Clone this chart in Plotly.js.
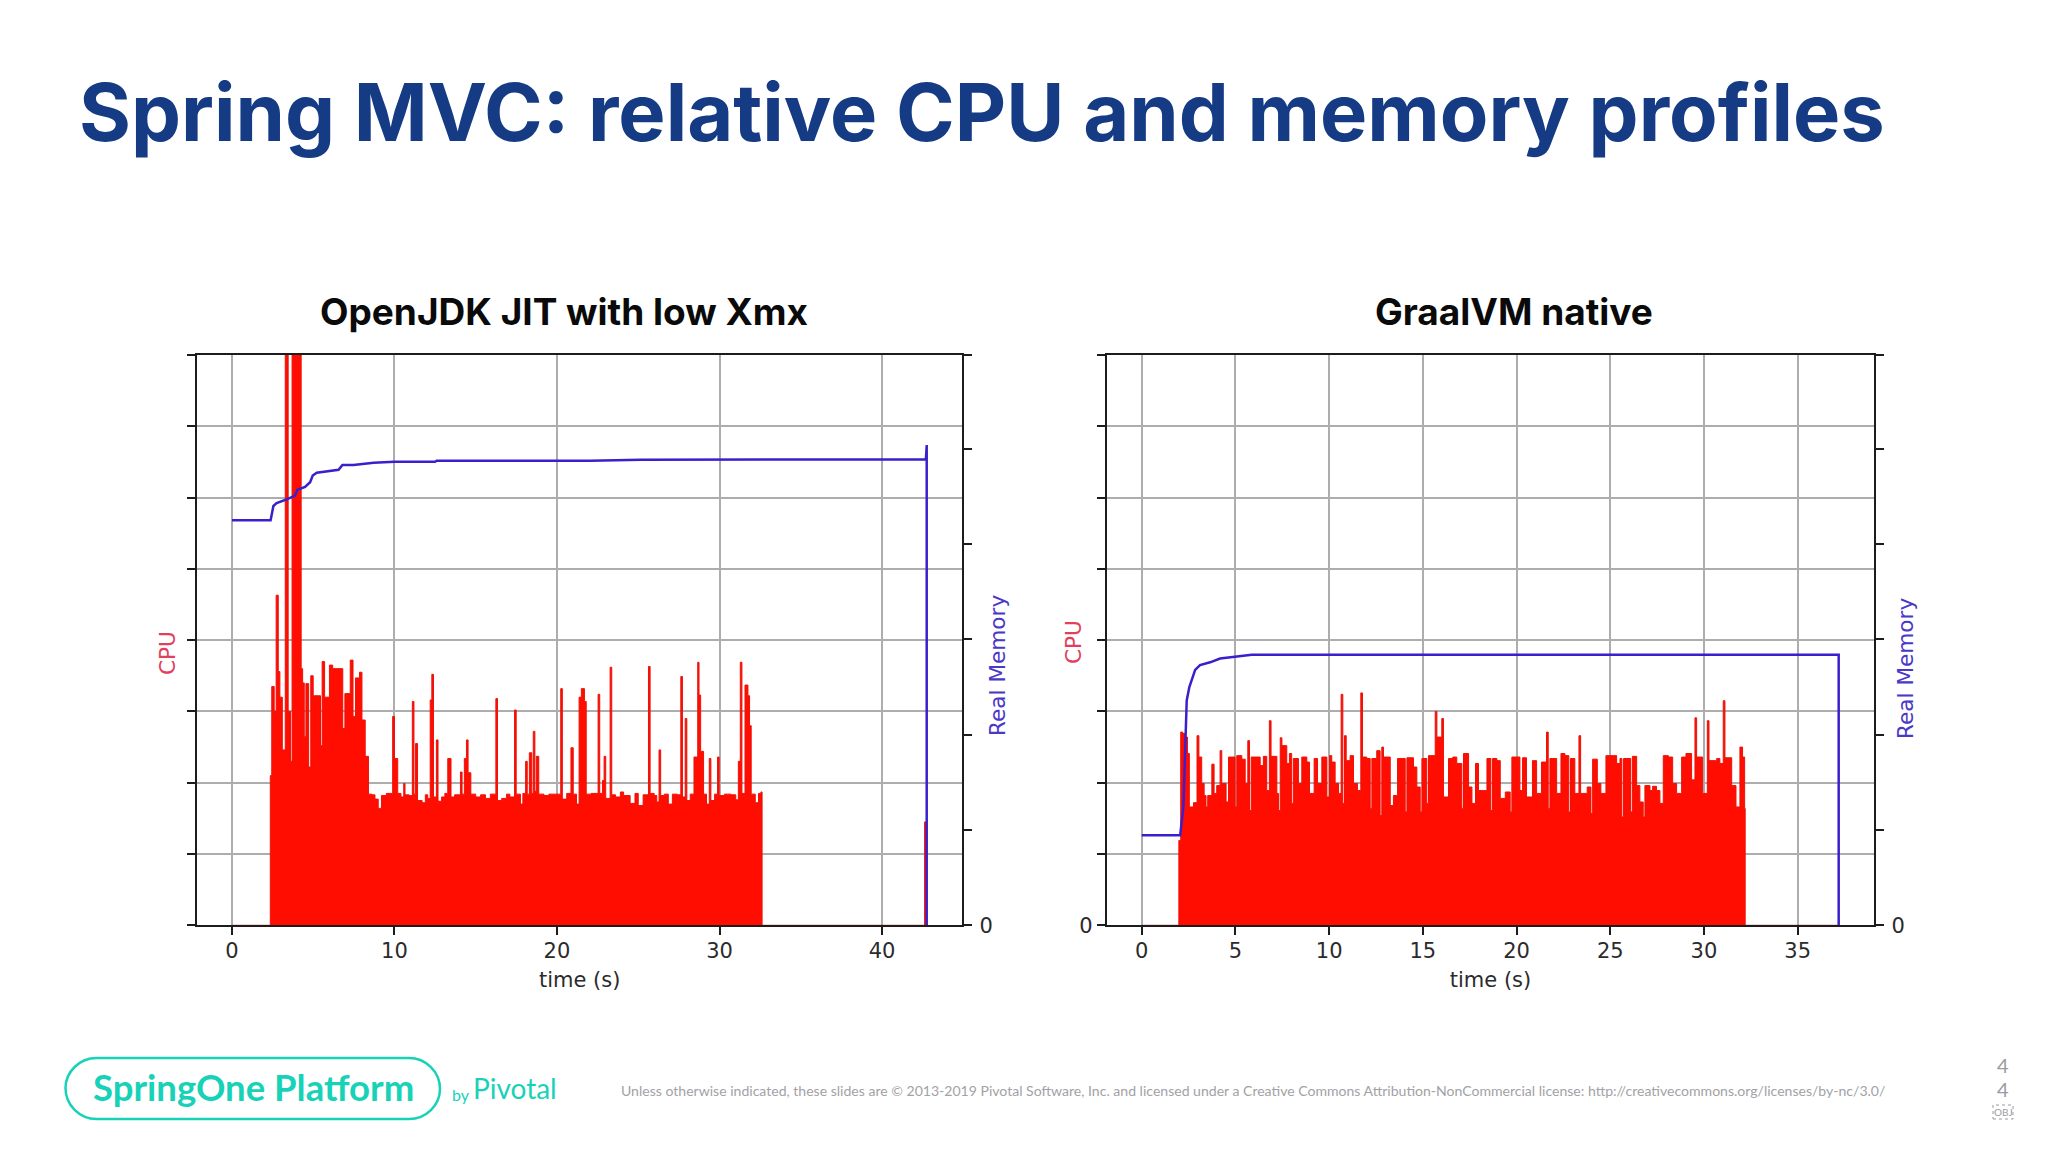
<!DOCTYPE html>
<html><head><meta charset="utf-8">
<script src="https://cdn.plot.ly/plotly-3.0.1.min.js"></script>
<style>html,body{margin:0;padding:0;background:#fff}#c{width:2048px;height:1152px}</style>
</head><body><div id="c"></div>
<script>
const slideTitle = "Spring MVC: relative CPU and memory profiles";
const panelTitles = ["OpenJDK JIT with low Xmx", "GraalVM native"];
const jitXTicks = [0, 10, 20, 30, 40];
const graalXTicks = [0, 5, 10, 15, 20, 25, 30, 35];
const cpuTicks = [0, 1, 2, 3, 4, 5, 6, 7, 8];
const memTicks = [0, 1, 2, 3, 4, 5, 5.985];

const jitCpuTime = [0,2.28,2.36,2.45,2.6,2.72,2.85,2.95,3.1,3.28,3.46,3.6,3.7,4.26,4.35,4.45,4.55,4.72,4.85,5.0,5.45,5.55,5.7,6.0,6.2,6.4,6.82,6.95,7.28,7.45,7.6,7.85,8.0,8.2,8.4,
8.6,8.8,9.0,9.2,9.5,9.89,10.0,10.2,10.4,10.57,10.65,10.9,11.1,11.2,11.3,11.42,11.7,11.9,12.05,12.2,12.3,12.4,12.58,12.68,12.9,13.1,13.28,13.48,13.7,14.06,14.16,14.3,14.43,14.53,14.7,15,15.3,15.6,15.9,16.24,16.34,16.6,16.9,17.1,17.39,17.49,17.75,17.9,18.07,18.17,18.3,18.45,18.54,18.64,18.73,18.88,19.2,19.5,19.9,20.23,20.33,20.6,20.86,21.0,21.2,21.36,21.5,21.69,21.8,22.1,22.53,22.63,22.8,22.9,23.0,23.27,23.37,23.6,23.9,24.1,24.5,24.8,25.0,25.3,25.63,25.73,25.98,26.14,26.28,26.38,26.6,26.85,27.1,27.4,27.62,27.72,27.89,27.99,28.2,28.43,28.66,28.74,28.84,29.02,29.2,29.37,29.47,29.7,29.88,29.98,30.3,30.7,31.0,31.16,31.28,31.38,31.57,31.75,31.85,31.95,32.2,32.4,32.55,32.62,42.6,42.62,42.72];
const jitCpuValue = [0,0,2.1,3.35,3.0,4.63,3.56,3.2,2.46,8,3.0,2.3,8,3.6,3.4,2.65,3.39,2.22,3.5,3.22,2.52,3.7,3.2,3.65,3.6,3.6,2.76,3.25,3.72,2.93,3.47,3.55,2.88,2.37,1.84,
1.83,1.77,1.64,1.82,1.85,2.93,2.34,1.85,1.8,1.99,1.83,1.82,3.14,1.84,2.55,1.75,1.72,1.83,1.78,3.16,3.52,1.8,2.6,1.74,1.8,1.85,2.34,1.8,1.83,2.15,1.84,2.34,2.6,2.14,1.84,1.8,1.83,1.78,1.84,3.18,1.75,1.78,1.84,1.8,3.02,1.84,1.7,1.85,2.3,1.84,2.42,1.85,2.72,1.88,2.37,1.84,1.82,1.84,1.84,3.32,1.77,1.85,2.49,1.84,1.7,3.2,3.32,3.14,1.84,1.85,3.24,1.85,2.03,2.37,1.78,3.62,1.83,1.8,1.87,1.82,1.71,1.85,1.68,1.83,3.63,1.85,1.82,1.73,2.46,1.82,1.84,1.7,1.84,1.83,3.49,1.8,2.9,1.75,1.84,2.36,3.69,3.23,2.44,1.84,1.7,2.34,1.75,1.84,2.36,1.82,1.84,1.83,1.76,2.3,3.69,1.85,3.37,3.22,2.8,1.84,1.72,1.85,1.87,0,0,1.45,0];

const jitMemTime = [0,2.38,2.55,2.75,3.37,3.88,4.03,4.5,4.81,4.97,5.22,6.56,6.8,7.48,8.72,10,12.5,12.6,22,25.2,42.7,42.72,42.75,42.75];
const jitMemValue = [4.25,4.25,4.4,4.43,4.47,4.51,4.57,4.6,4.65,4.72,4.75,4.78,4.83,4.83,4.855,4.865,4.865,4.875,4.875,4.885,4.89,5.04,5.04,0];

const graalCpuTime = [0,1.98,2.08,2.19,2.31,2.44,2.54,2.76,2.95,3.05,3.2,3.33,3.43,3.52,3.74,3.86,4.0,4.18,4.27,4.5,4.63,4.8,4.98,5.07,5.34,5.52,5.66,5.75,5.84,6.14,6.32,6.49,6.67,6.81,6.9,7.21,7.3,7.39,7.48,7.74,7.88,8.0,8.09,8.36,8.54,8.81,8.95,9.2,9.38,9.61,9.88,10.02,10.14,10.32,10.5,10.64,10.73,10.82,10.91,11.12,11.3,11.51,11.69,11.78,12.01,12.19,12.28,12.54,12.72,12.81,12.9,13.26,13.43,13.65,13.88,14.06,14.15,14.5,14.68,14.86,14.95,15.21,15.3,15.66,15.75,16.01,16.1,16.37,16.6,16.81,17.08,17.17,17.44,17.62,17.81,17.97,18.24,18.42,18.63,18.72,18.95,19.13,19.4,19.66,19.75,20.18,20.32,20.53,20.85,21.07,21.33,21.6,21.69,21.78,22.14,22.37,22.58,22.79,22.88,23.11,23.33,23.42,23.77,23.97,24.06,24.31,24.5,24.77,25.16,25.34,25.52,25.62,25.71,26.09,26.18,26.41,26.58,26.76,26.85,27.12,27.26,27.47,27.65,27.83,28.1,28.33,28.54,28.81,29.04,29.34,29.52,29.61,29.93,30.18,30.27,30.68,30.85,31.03,31.12,31.48,31.71,31.92,32.06,32.17,32.2,37.2];
const graalCpuValue = [0,1.19,2.71,2.69,2.64,2.41,1.66,1.72,2.66,2.36,1.99,1.82,1.66,1.82,2.26,1.85,1.96,2.45,1.99,1.73,2.36,2.36,1.66,2.38,2.33,1.99,2.59,1.61,2.36,2.36,2.24,2.37,1.89,2.87,2.37,1.85,1.61,2.63,2.52,2.27,2.41,1.71,2.34,1.99,2.36,2.29,1.85,2.34,1.99,2.36,1.8,2.38,2.29,1.99,1.85,3.24,1.71,2.66,2.31,2.38,1.99,1.89,3.26,2.36,2.34,1.64,2.34,2.45,1.54,2.5,2.36,1.68,1.82,2.34,2.34,1.59,2.35,2.22,1.94,1.59,2.34,1.71,2.38,3.0,2.64,2.9,1.8,2.34,2.36,2.27,1.64,2.41,1.94,1.71,2.27,1.89,1.89,2.34,1.61,2.34,2.31,1.78,1.87,1.59,2.36,1.89,2.35,1.8,2.31,1.85,2.29,2.71,1.64,2.34,1.85,2.41,2.38,1.59,2.34,1.85,2.66,1.85,1.94,1.57,2.33,1.99,1.85,2.38,2.38,2.27,2.34,1.52,2.34,1.59,2.37,1.96,1.73,1.52,1.96,1.89,1.95,1.89,1.71,2.38,2.36,1.99,1.85,2.36,2.41,2.04,2.91,2.36,1.85,2.87,2.31,2.34,2.27,3.15,2.35,1.96,1.66,2.5,2.36,1.64,0,0];

const graalMemTime = [0,2.05,2.22,2.4,2.54,2.85,3.11,3.65,4.18,4.89,5.87,37.19,37.19];
const graalMemValue = [0.944,0.944,1.24,2.36,2.5,2.68,2.73,2.76,2.8,2.82,2.84,2.84,0];

const W = 2048, H = 1152;
const px = x => x / W, py = y => 1 - y / H;
const RED = "#fe0d00", BLUE = "#3a20cc", AXIS = "#1c1c1c", GRID = "#adadad", TXT = "#2b2b2b", TEAL = "#18d2b8";
const NAVY = "#153b85";
const mono = "DejaVu Sans", sans = "Inter";

function cpu(x, y, xa, ya) {
  return {x, y, xaxis: xa, yaxis: ya, type: "scatter", mode: "lines", fill: "tozeroy", fillcolor: RED,
          line: {color: "#ee1208", width: 1, shape: "hv"}, hoverinfo: "skip", showlegend: false};
}
function mem(x, y, xa, ya) {
  return {x, y, xaxis: xa, yaxis: ya, type: "scatter", mode: "lines",
          line: {color: BLUE, width: 2.5}, hoverinfo: "skip", showlegend: false};
}
const data = [
  cpu(jitCpuTime, jitCpuValue, "x", "y"),
  mem(jitMemTime, jitMemValue, "x", "y2"),
  cpu(graalCpuTime, graalCpuValue, "x2", "y3"),
  mem(graalMemTime, graalMemValue, "x2", "y4"),
];

function xAxis(left, right, range, ticks, anchor) {
  return {domain: [px(left), px(right)], range, anchor, tickmode: "array", tickvals: ticks, ticktext: ticks.map(String),
    ticks: "outside", ticklen: 8, tickwidth: 2, tickcolor: AXIS, showgrid: true, gridcolor: GRID, gridwidth: 2, zeroline: false,
    showline: true, linecolor: AXIS, linewidth: 2, mirror: true, ticklabelstandoff: -3,
    tickfont: {family: mono, size: 21, color: TXT},
    title: {text: "time (s)", font: {family: mono, size: 21, color: TXT}, standoff: 11}};
}
function cpuAxis(anchor, labels) {
  return {domain: [py(925.3), py(355)], range: [0, 8], anchor, side: "left", tickmode: "array", tickvals: cpuTicks, ticktext: labels,
    ticks: "outside", ticklen: 8, tickwidth: 2, tickcolor: AXIS, showgrid: true, gridcolor: GRID, gridwidth: 2, zeroline: false,
    showline: true, linecolor: AXIS, linewidth: 2,
    tickfont: {family: mono, size: 21, color: TXT}};
}
function memAxis(anchor, over) {
  return {domain: [py(925.3), py(355)], range: [0, 5.985], anchor, overlaying: over, side: "right", tickmode: "array", tickvals: memTicks,
    ticktext: ["0", "", "", "", "", "", ""], ticks: "outside", ticklen: 8, tickwidth: 2, tickcolor: AXIS, showgrid: false, zeroline: false,
    showline: true, linecolor: AXIS, linewidth: 2, ticklabelstandoff: 3, tickfont: {family: mono, size: 21, color: TXT}};
}
function note(text, x, y, size, color, family, extra) {
  const weight = (extra && extra.weight) || 400;
  const a = {text, x: px(x), y: py(y), xref: "paper", yref: "paper", showarrow: false,
    xanchor: "center", yanchor: "middle", font: {size, color, family, weight}};
  if (extra && extra.textangle) a.textangle = extra.textangle;
  return a;
}
const pill = (() => {
  const l = px(65.5), r = px(440), t = py(1058), b = py(1119), rx = px(31), ry = 31 / H, k = 0.55;
  return `M ${l + rx} ${t} L ${r - rx} ${t} C ${r - rx * (1 - k)} ${t} ${r} ${t - ry * (1 - k)} ${r} ${t - ry} ` +
         `C ${r} ${b + ry * (1 - k)} ${r - rx * (1 - k)} ${b} ${r - rx} ${b} L ${l + rx} ${b} ` +
         `C ${l + rx * (1 - k)} ${b} ${l} ${b + ry * (1 - k)} ${l} ${b + ry} C ${l} ${t - ry * (1 - k)} ${l + rx * (1 - k)} ${t} ${l + rx} ${t} Z`;
})();

const blank = cpuTicks.map(() => "");
const layout = {
  width: W, height: H, margin: {l: 0, r: 0, t: 0, b: 0}, paper_bgcolor: "#fff", plot_bgcolor: "#fff", showlegend: false,
  xaxis: xAxis(197, 962.3, [-2.15, 44.94], jitXTicks, "y"),
  yaxis: cpuAxis("x", blank),
  yaxis2: memAxis("x", "y"),
  xaxis2: xAxis(1106.7, 1874.3, [-1.87, 39.09], graalXTicks, "y3"),
  yaxis3: cpuAxis("x2", ["0"].concat(blank.slice(1))),
  yaxis4: memAxis("x2", "y3"),
  shapes: [
    {type: "path", xref: "paper", yref: "paper", path: pill, line: {color: TEAL, width: 2.5}, fillcolor: "rgba(0,0,0,0)"},
    {type: "rect", xref: "paper", yref: "paper", x0: px(1993), x1: px(2013), y0: py(1119), y1: py(1105), line: {color: "#9a9aa0", width: 1, dash: "dot"}},
  ],
  annotations: [
    note(slideTitle, 982, 112, 79.4, NAVY, sans, {weight: 700}),
    note(panelTitles[0], 564, 311, 37, "#0a0a0a", sans, {weight: 700}),
    note(panelTitles[1], 1514, 311, 37, "#0a0a0a", sans, {weight: 700}),
    note("CPU", 167, 653, 21.6, "#e2405a", mono, {textangle: -90}),
    note("Real Memory", 997, 666, 21.6, "#4a38c8", mono, {textangle: -90}),
    note("CPU", 1073, 642, 21.6, "#e2405a", mono, {textangle: -90}),
    note("Real Memory", 1905, 669, 21.6, "#4a38c8", mono, {textangle: -90}),
    note("SpringOne Platform", 253, 1087, 36.5, TEAL, "Lato", {weight: 700}),
    note("by", 461, 1094, 16, TEAL, "Lato"),
    note("Pivotal", 515, 1088, 28, TEAL, "Lato"),
    note("Unless otherwise indicated, these slides are © 2013-2019 Pivotal Software, Inc. and licensed under a Creative Commons Attribution-NonCommercial license: http://creativecommons.org/licenses/by-nc/3.0/", 1253, 1090, 14.05, "#a2a2a6", "Lato"),
    note("4", 2003, 1065, 20, "#9a9aa0", "Lato"),
    note("4", 2003, 1089, 20, "#9a9aa0", "Lato"),
    note("OBJ", 2003, 1112, 10, "#9a9aa0", "Lato"),
  ],
};
Plotly.newPlot("c", data, layout, {staticPlot: true, displayModeBar: false});
</script></body></html>
